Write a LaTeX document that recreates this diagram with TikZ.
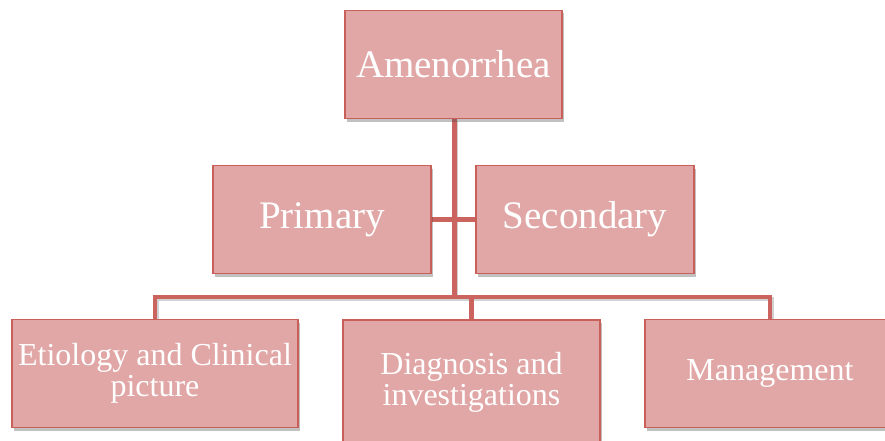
\documentclass[tikz,border=0pt]{standalone}
\usepackage{fontspec}
\setmainfont{Liberation Serif}
\usetikzlibrary{shadows,backgrounds}
\definecolor{boxfill}{HTML}{E1A7A6}
\definecolor{boxline}{HTML}{C95F59}
\definecolor{conn}{HTML}{CB635E}
\tikzset{
  box/.style={draw=boxline, line width=1.6pt, fill=boxfill, inner sep=0pt,
    text=white, align=center,
    drop shadow={shadow xshift=2pt, shadow yshift=-3pt, opacity=0.35, fill=black!70}},
  bigtext/.style={font=\fontsize{39}{40}\selectfont},
  smalltext/.style={font=\fontsize{32}{31}\selectfont},
  connector/.style={draw=conn, line width=4.5pt, line join=miter},
  connshadow/.style={draw=black!60, line width=4.5pt, opacity=0.3, line join=miter}
}
\begin{document}
\begin{tikzpicture}[x=1pt,y=-1pt]
\useasboundingbox (0,0) rectangle (885,441);
\node[box, bigtext, minimum width=217pt, minimum height=108pt] (amen) at (453.5,64.5) {Amenorrhea};
\node[box, bigtext, minimum width=218pt, minimum height=108pt] (prim) at (322,219.5) {\raisebox{-3pt}{Primary}};
\node[box, bigtext, minimum width=218pt, minimum height=108pt] (sec) at (585,219.5) {\raisebox{-3pt}{Secondary}};
\node[box, smalltext, minimum width=286pt, minimum height=108pt] (etio) at (155,373.5) {Etiology and Clinical\\picture};
\node[box, minimum width=257pt, minimum height=130pt] (diag) at (471.5,385) {};
\node[text=white, smalltext, align=center] (diagt) at (471.5,382) {Diagnosis and\\investigations};
\node[box, smalltext, minimum width=250pt, minimum height=108pt] (mgmt) at (770,373.5) {\raisebox{-2pt}{Management}};
\coordinate (trunk) at (454.5,297);
\coordinate (amenb) at (454.5,119);
\begin{scope}[on background layer]
  % faint shadows of the connectors
  \draw[connshadow, transform canvas={xshift=1.5pt,yshift=-2pt}] (amenb) -- (trunk);
  \draw[connshadow, transform canvas={xshift=1.5pt,yshift=-2pt}] (etio.north) |- (trunk) -| (mgmt.north);
  % connectors
  \draw[connector] (amenb) -- (trunk);
  \draw[connector] (prim.east) -- (sec.west);
  \draw[connector] (etio.north) |- (trunk) -| (mgmt.north);
  \draw[connector] (diag.north) -- (diag.north |- trunk);
\end{scope}
\end{tikzpicture}
\end{document}
